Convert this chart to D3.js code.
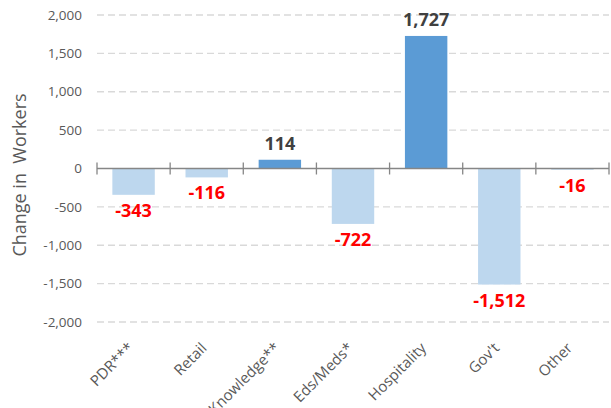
<!DOCTYPE html>
<html>
<head>
<meta charset="utf-8">
<script src="https://cdn.jsdelivr.net/npm/d3@7"></script>
<style>
  body { margin: 0; background: #fff; }
  svg { display: block; font-family: "Open Sans", sans-serif; }
  .grid line { stroke: #d9d9d9; stroke-dasharray: 7,4; stroke-width: 1.3; }
  .tick-label { fill: #595959; font-size: 13.5px; }
  .cat-label { fill: #595959; font-size: 15px; }
</style>
</head>
<body>
<svg width="611" height="408"></svg>
<script>
// Data
let categories = ['PDR***', 'Retail', 'Knowledge**', 'Eds/Meds*', 'Hospitality', "Gov't", 'Other']
let changes = [-343, -116, 114, -722, 1727, -1512, -16]
let yTicks = [-2000, -1500, -1000, -500, 0, 500, 1000, 1500, 2000]

let margin = { left: 97, right: 2, top: 15, bottom: 86 }
let W = 611, H = 408
let w = W - margin.left - margin.right
let h = H - margin.top - margin.bottom

let svg = d3.select('svg')

let x = d3.scaleBand()
  .domain(categories)
  .range([margin.left, margin.left + w])
  .paddingInner(0.42)
  .paddingOuter(0.21)

let y = d3.scaleLinear()
  .domain([-2000, 2000])
  .range([margin.top + h, margin.top])

// plain hyphen for negatives, like the original
let fmt = d3.formatLocale({ decimal: '.', thousands: ',', grouping: [3], currency: ['', ''], minus: '-' }).format(',')

// Gridlines
svg.append('g')
  .attr('class', 'grid')
  .selectAll('line')
  .data(yTicks.filter(d => d !== 0))
  .enter()
  .append('line')
  .attr('x1', margin.left)
  .attr('x2', margin.left + w)
  .attr('y1', d => y(d))
  .attr('y2', d => y(d))

// Y tick labels
svg.append('g')
  .selectAll('text')
  .data(yTicks)
  .enter()
  .append('text')
  .attr('class', 'tick-label')
  .attr('x', margin.left - 15)
  .attr('y', d => y(d))
  .attr('dy', '0.35em')
  .attr('text-anchor', 'end')
  .text(d => fmt(d))

// Bars
svg.append('g')
  .selectAll('rect')
  .data(changes)
  .enter()
  .append('rect')
  .attr('x', (d, i) => x(categories[i]))
  .attr('width', x.bandwidth())
  .attr('y', d => y(Math.max(0, d)))
  .attr('height', d => Math.abs(y(d) - y(0)))
  .attr('fill', d => d > 0 ? '#5b9bd5' : '#bdd7ee')

// Zero axis with crossing ticks
let zero = svg.append('g')
  .attr('transform', `translate(0,${y(0)})`)
zero.append('line')
  .attr('x1', margin.left)
  .attr('x2', margin.left + w)
  .attr('stroke', '#868686')
  .attr('stroke-width', 1.3)
let edges = categories.map(c => x(c) - x.step() * x.paddingInner() / 2)
edges.push(margin.left + w)
zero.selectAll('.edge')
  .data(edges)
  .enter()
  .append('line')
  .attr('x1', d => d)
  .attr('x2', d => d)
  .attr('y1', -6)
  .attr('y2', 6)
  .attr('stroke', '#868686')
  .attr('stroke-width', 1.3)

// Value labels
svg.append('g')
  .selectAll('text')
  .data(changes)
  .enter()
  .append('text')
  .attr('x', (d, i) => x(categories[i]) + x.bandwidth() / 2)
  .attr('y', d => d > 0 ? y(d) - 10 : y(d) + 22)
  .attr('text-anchor', 'middle')
  .attr('font-weight', 'bold')
  .attr('font-size', '18px')
  .attr('fill', d => d > 0 ? '#404040' : '#ff0000')
  .text(d => fmt(d))

// Category labels (the long one runs off the bottom edge, as in the original)
svg.append('g')
  .selectAll('text')
  .data(categories)
  .enter()
  .append('text')
  .attr('class', 'cat-label')
  .attr('text-anchor', 'end')
  .attr('transform', c => `translate(${x(c) + x.bandwidth() / 2 + 1},${margin.top + h + 27}) rotate(-45)`)
  .text(c => c)

// Y axis title
svg.append('text')
  .attr('transform', 'translate(26,175) rotate(-90)')
  .attr('text-anchor', 'middle')
  .attr('fill', '#595959')
  .attr('font-size', '18px')
  .style('white-space', 'pre')
  .text('Change in  Workers')
</script>
</body>
</html>
